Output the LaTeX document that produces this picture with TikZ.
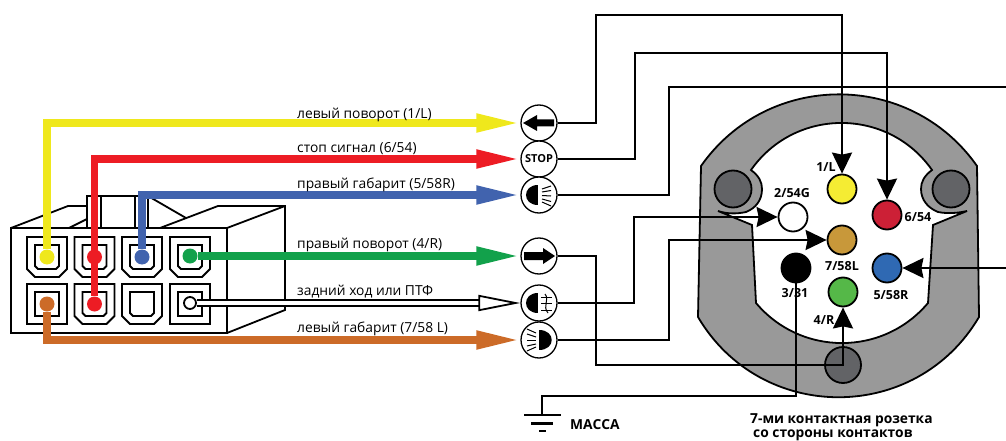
\documentclass[tikz,border=0pt]{standalone}
\usepackage{fontspec}
\setmainfont{Open Sans}
\usepackage{tikz}
\usetikzlibrary{arrows.meta}

\definecolor{wireY}{HTML}{EFE81C}
\definecolor{wireS}{HTML}{ED1C24}
\definecolor{wireB}{HTML}{4163AE}
\definecolor{wireG}{HTML}{12A14B}
\definecolor{wireO}{HTML}{CC6B28}
\definecolor{pinY}{HTML}{F5EC33}
\definecolor{pinS}{HTML}{CC2036}
\definecolor{pinT}{HTML}{C8983A}
\definecolor{pinB}{HTML}{2F69B3}
\definecolor{pinG}{HTML}{55B848}
\definecolor{bodyGray}{HTML}{999999}
\definecolor{boltGray}{HTML}{626366}

\tikzset{
    wire/.style={line width=7.6pt, color=#1, -{Triangle[length=44pt,width=17pt]}},
    wiredot/.style={circle, fill=#1, inner sep=0pt, minimum size=15pt},
    lamp/.style={circle, draw=black, fill=white, line width=1.3pt, inner sep=0pt, minimum size=36pt},
    pin/.style={circle, draw=black, fill=#1, line width=1.8pt, inner sep=0pt, minimum size=29pt},
    signal/.style={line width=2.2pt, draw=black, -{Stealth[length=21pt,width=20pt,inset=2pt]}},
    plainwire/.style={line width=2.2pt, draw=black},
    housing/.style={line width=1.8pt, draw=black},
    wiretext/.style={anchor=base west, inner sep=0pt, font=\fontsize{13.8}{14}\selectfont},
    pintext/.style={font=\fontsize{12.5}{12.5}\selectfont\bfseries},
    titletext/.style={anchor=base west, inner sep=0pt, font=\fontsize{13.8}{13.8}\selectfont\bfseries},
}

\begin{document}
\begin{tikzpicture}[x=1pt, y=-1pt]
    \useasboundingbox (0,0) rectangle (1006,441);

    % socket body
    \draw[housing, fill=bodyGray] (701,166) .. controls (768,70.5) and (910,70.5) .. (977,166)
        -- (979,317) .. controls (916,424) and (761,424) .. (698,317) -- cycle;
    \draw[housing, fill=white] (751,170) .. controls (795,107.3) and (888,107.3) .. (932,170)
        .. controls (924,176) and (921,182) .. (921,189)
        .. controls (921,200) and (928,208) .. (938,212)
        .. controls (948,214) and (958,213) .. (967,211)
        -- (933,225) -- (928,303) .. controls (883,356.4) and (801,356.4) .. (756,303)
        -- (752,225) -- (718,211)
        .. controls (727,214) and (737,214) .. (746,212)
        .. controls (756,208) and (762,200) .. (762,189)
        .. controls (762,182) and (759,176) .. (751,170) -- cycle;
    \foreach \x/\y/\r in {733/189/18.5, 951/189/18.5, 843/365/18}
        \draw[housing, fill=boltGray] (\x,\y) circle (\r);

    % plug housing
    \draw[housing] (11,228) rectangle (227,333);
    \draw[housing] (11,228) -- (68,206) -- (87,206);
    \draw[housing] (69,228) -- (87,219);
    \draw[housing] (87,228) -- (87,196) -- (148,196) -- (148,228);
    \draw[housing] (101,228) -- (101,196);
    \draw[housing] (135,228) -- (135,196);
    \draw[housing] (148,196) -- (186,218);
    \draw[housing] (160,228) -- (218,206) -- (285,206) -- (285,310) -- (227,333);
    \draw[housing] (227,228) -- (285,206);

    % contacts of the plug
    \foreach \x/\y in {47/257, 94.5/257, 142/257, 190/257, 94.5/304, 142/304}{
        \begin{scope}[shift={(\x,\y)}]
            \draw[housing] (-20,-20) -- (20,-20) -- (20,12) -- (12,20) -- (-12,20) -- (-20,12) -- cycle;
            \draw[housing] (-12,-12) -- (12,-12) -- (12,9) -- (9,12) -- (-9,12) -- (-12,9) -- cycle;
        \end{scope}
    }
    \foreach \x/\y in {47/304, 190/304}{
        \begin{scope}[shift={(\x,\y)}]
            \draw[housing] (-20,-20) rectangle (20,20);
            \draw[housing] (-12,-12) rectangle (12,12);
        \end{scope}
    }

    % dots on the contacts
    \node[wiredot=wireY] at (47,257) (dotL) {};
    \node[wiredot=wireS] at (94.5,257) (dotSa) {};
    \node[wiredot=wireS] at (94.5,304) (dotS) {};
    \node[wiredot=wireB] at (142,257) (dotP) {};
    \node[wiredot=wireG] at (190,256) (dotR) {};
    \node[wiredot=wireO] at (47,304) (dotM) {};
    \node[circle, draw=black, fill=white, line width=1.8pt, inner sep=0pt, minimum size=12pt] at (190,303) (dotF) {};

    % lamps
    \node[lamp] at (539,123) (lampL) {};
    \node[lamp, font=\fontsize{11}{11}\selectfont\bfseries] at (539,159) (lampS) {STOP};
    \node[lamp] at (539,195) (lampP) {};
    \node[lamp] at (539,256) (lampR) {};
    \node[lamp] at (539,303) (lampF) {};
    \node[lamp] at (539,340) (lampM) {};

    \fill (523,123) -- (537,115) -- (537,119.5) -- (554,119.5) -- (554,126.5) -- (537,126.5) -- (537,131) -- cycle;
    \fill (555,256) -- (543,248) -- (543,252) -- (524,252) -- (524,260) -- (543,260) -- (543,264) -- cycle;
    \fill (538,185) .. controls (522,185) and (522,205) .. (538,205) -- cycle;
    \foreach \a/\b in {189/186, 192/190.5, 195.5/196, 199/201.5, 202/206}
        \draw[line width=1pt] (542,\a) -- (551,\b);
    \fill (538,293) .. controls (522,293) and (522,313) .. (538,313) -- cycle;
    \foreach \a in {297,303,310}
        \draw[line width=1pt] (541,\a) -- (552,\a);
    \draw[line width=1pt] (545,294) .. controls (550,300) and (542,306) .. (548,313);
    \fill (539,330) .. controls (556,330) and (556,350) .. (539,350) -- cycle;
    \foreach \a/\b in {333/329, 337/334, 340/340, 344/346, 347/351}
        \draw[line width=1pt] (536,\a) -- (527,\b);

    % coloured wires
    \draw[wire=wireY] (dotL) |- (lampL);
    \draw[wire=wireS] (dotS) |- (lampS);
    \draw[wire=wireB] (dotP) |- (lampP);
    \draw[wire=wireG] (dotR) -- (lampR);
    \draw[wire=wireO] (dotM) |- (lampM);
    \draw[line width=1.8pt, double=white, double distance=4pt, -{Triangle[open, fill=white, length=42pt, width=16pt]}] (dotF) -- (lampF);

    \node[wiretext] at (297,118) (txtL) {левый поворот (1/L)};
    \node[wiretext] at (297,152) (txtS) {стоп сигнал (6/54)};
    \node[wiretext] at (297,188) (txtP) {правый габарит (5/58R)};
    \node[wiretext] at (297,248) (txtR) {правый поворот (4/R)};
    \node[wiretext] at (297,295) (txtF) {задний ход или ПТФ};
    \node[wiretext] at (297,332) (txtM) {левый габарит (7/58 L)};

    % pins of the socket
    \node[pin=pinY] at (842,189) (pinL) {};
    \node[pin=white] at (793,217) (pinW) {};
    \node[pin=pinS] at (887,215) (pinR6) {};
    \node[pin=pinT] at (842,240) (pinM) {};
    \node[pin=black] at (796,268) (pinK) {};
    \node[pin=pinB] at (887,268) (pinP) {};
    \node[pin=pinG] at (843,292) (pinR) {};

    \node[pintext] at (826,167) (numL) {1/L};
    \node[pintext] at (792,193) (numW) {2/54G};
    \node[pintext] at (918,217) (numS) {6/54};
    \node[pintext] at (842,266) (numM) {7/58L};
    \node[pintext] at (795,293) (numK) {3/31};
    \node[pintext] at (891,295) (numP) {5/58R};
    \node[pintext] at (824,320) (numR) {4/R};

    % signal lines
    \draw[signal] (lampL) -| (596,15) -| (pinL);
    \draw[signal] (lampS) -| (635,53) -| (pinR6);
    \draw[signal] (lampP) -| (669,87) -- (1012,87) |- (pinP);
    \draw[signal] (lampR) -| (596,365) -| (pinR);
    \draw[signal] (lampF) -| (634,217) -- (pinW);
    \draw[signal] (lampM) -| (669,240) -- (pinM);

    % ground
    \coordinate (gnd) at (542,415);
    \draw[plainwire] (pinK) |- (542,396) -- (gnd);
    \draw[plainwire] (524,415) -- (561,415);
    \draw[plainwire] (531,423.5) -- (553,423.5);
    \draw[plainwire] (539,431) -- (546,431);
    \node[titletext] at (570,429) (txtGnd) {МАССА};

    \node[titletext] at (750,423) (txtA) {7-ми контактная розетка};
    \node[titletext] at (753,437) (txtB) {со стороны контактов};
\end{tikzpicture}
\end{document}
